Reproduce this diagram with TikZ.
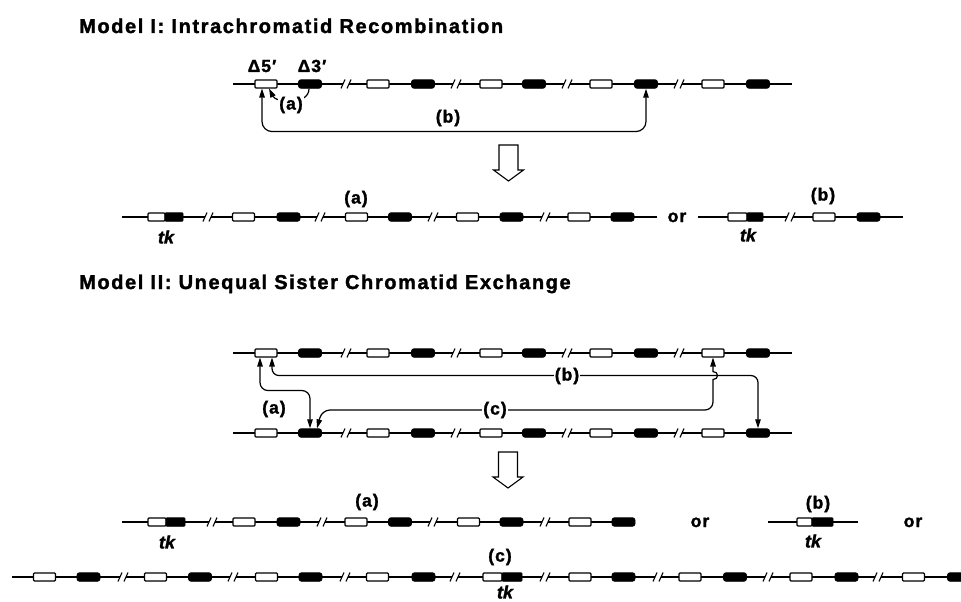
\documentclass[tikz,border=0pt]{standalone}
\usepackage{fontspec}
\setmainfont{Liberation Sans}
\newfontfamily\labface[LetterSpace=6, FakeBold=1.6]{Liberation Sans Bold}
\newfontfamily\headface[LetterSpace=8, FakeBold=1.6]{Liberation Sans Bold}
\newfontfamily\tkface[FakeBold=1.6]{Liberation Sans Bold Italic}
\usetikzlibrary{arrows.meta}

% break in a chromatid: gap in the line with two slanted strokes
\newcommand\chrbreak[2]{%
  \fill[white] (#1-3,#2-2.5) rectangle (#1+3,#2+2.5);
  \draw[slash] (#1-5,#2+4.5) -- (#1-1,#2-4.5);
  \draw[slash] (#1+1,#2+4.5) -- (#1+5,#2-4.5);}

\begin{document}
\begin{tikzpicture}[x=1pt,y=-1pt,
  chrom/.style={line width=1.3pt},
  slash/.style={line width=1.1pt},
  obox/.style={draw, fill=white, line width=1.1pt, minimum width=22pt,
    minimum height=8pt, inner sep=0pt, rounded corners=1pt},
  fbox/.style={draw, fill=black, line width=0.8pt, minimum width=23pt,
    minimum height=8.5pt, inner sep=0pt, rounded corners=2.5pt},
  tko/.style={obox, minimum width=#1},
  tkf/.style={fbox, minimum width=#1, rounded corners=1pt},
  conn/.style={line width=1.2pt},
  >={Triangle[length=9pt,width=5.5pt]},
  title/.style={font=\headface\fontsize{20}{24}\selectfont,
    anchor=base west, inner sep=0pt},
  lab/.style={font=\labface\fontsize{17.5}{20}\selectfont, inner sep=1pt},
  cut/.style={lab, fill=white},
  tklab/.style={font=\tkface\fontsize{18}{20}\selectfont, inner sep=0pt},
  hollow/.pic={\draw[line width=1.1pt, fill=white]
    (-9.5,0) -- (9.5,0) -- (9.5,25) -- (15,25) -- (0,36) -- (-15,25) -- (-9.5,25) -- cycle;}]

\useasboundingbox (0,0) rectangle (961,602);

% ---------------- Model I ----------------
\node[title] (t1) at (79,33) {Model I: Intrachromatid Recombination};

\draw[chrom] (233,84) -- (792,84);
\foreach \b in {346,456,567,679} {\chrbreak{\b}{84}}
\foreach \x [count=\i] in {266,378,491,601,713} \node[obox] (m1o\i) at (\x,84) {};
\foreach \x [count=\i] in {310,423,534,646,758} \node[fbox] (m1f\i) at (\x,84) {};
\node[lab, anchor=base] (d5) at (262,72) {Δ5′};
\node[lab, anchor=base] (d3) at (312,72) {Δ3′};

% (a): intrachromatid event between neighbouring copies
\draw[conn,->] ([xshift=-1pt]m1f1.south) .. controls +(0,17) and +(7,14) .. ([xshift=3pt]m1o1.south);
\node[cut] (m1a) at (291,105) {(a)};
% (b): event between distant copies
\draw[conn,<->,rounded corners=10pt] ([xshift=-4pt]m1o1.south) -- ++(0,43) -| (m1f4.south);
\node[lab] (m1b) at (448,118) {(b)};

\pic at (508.5,145) {hollow};

% products of Model I
\draw[chrom] (122,217) -- (657,217);
\foreach \b in {208,320,433,545} {\chrbreak{\b}{217}}
\node[tko=17pt] (p1to) at (156.5,217) {};
\node[tkf=18pt] (p1tf) at (174,217) {};
\foreach \x [count=\i] in {243.5,356.5,467.5,579} \node[obox] (p1o\i) at (\x,217) {};
\foreach \x [count=\i] in {288.5,400,511.5,622.5} \node[fbox] (p1f\i) at (\x,217) {};
\node[lab] (p1a) at (356,199) {(a)};
\node[tklab] (p1tk) at (166,237) {tk};
\node[lab, anchor=base] (or1) at (677,222) {or};

\draw[chrom] (698,217) -- (903,217);
\chrbreak{790}{217}
\node[tko=19pt] (q1to) at (737.5,217) {};
\node[tkf=16pt] (q1tf) at (755,217) {};
\node[obox] (q1o1) at (824,217) {};
\node[fbox] (q1f1) at (868.5,217) {};
\node[lab] (q1b) at (823,196) {(b)};
\node[tklab] (q1tk) at (748,235) {tk};

% ---------------- Model II ----------------
\node[title] (t2) at (79,289) {Model II: Unequal Sister Chromatid Exchange};

\foreach \y/\n in {353/m2t, 433/m2b} {
  \draw[chrom] (233,\y) -- (792,\y);
  \foreach \b in {346,456,567,679} {\chrbreak{\b}{\y}}
  \foreach \x [count=\i] in {266,378,491,601,713} \node[obox] (\n o\i) at (\x,\y) {};
  \foreach \x [count=\i] in {310,423,534,646,758} \node[fbox] (\n f\i) at (\x,\y) {};
}

% (a)
\draw[conn,<->,rounded corners=8pt] ([xshift=-6pt]m2to1.south) -- ++(0,33) -| (m2bf1.north);
\node[lab] (m2a) at (274,409) {(a)};
% (b)
\draw[conn,<->,rounded corners=7pt] ([xshift=6pt]m2to1.south) -- ++(0,18) -| (m2bf5.north);
\node[cut] (m2bl) at (567,376) {(b)};
% (c), hopping over (b)
\draw[conn,<->] (m2to5.south) -- ++(0,14) .. controls +(6,0) and +(6,0) .. ++(0,8)
  [rounded corners=8pt] |- (322,410) -- ([xshift=7pt]m2bf1.north);
\node[cut] (m2c) at (495,410) {(c)};

\pic at (508,452) {hollow};

% products of Model II: (a)
\draw[chrom] (122,522) -- (635,522);
\foreach \b in {212,322,433,545} {\chrbreak{\b}{522}}
\node[tko=18pt] (r1to) at (157,522) {};
\node[tkf=19pt] (r1tf) at (175.5,522) {};
\foreach \x [count=\i] in {244,356,468.5,580} \node[obox] (r1o\i) at (\x,522) {};
\foreach \x [count=\i] in {288.5,400,511.5,623.5} \node[fbox] (r1f\i) at (\x,522) {};
\node[lab] (r1a) at (367,502) {(a)};
\node[tklab] (r1tk) at (167,542) {tk};
\node[lab, anchor=base] (or2) at (700,527) {or};

% (b)
\draw[chrom] (768,522) -- (858,522);
\node[tko=15pt] (r2to) at (804.5,522) {};
\node[tkf=21pt] (r2tf) at (822.5,522) {};
\node[lab] (r2b) at (818,504) {(b)};
\node[tklab] (r2tk) at (813,541) {tk};
\node[lab, anchor=base] (or3) at (913,527) {or};

% (c)
\draw[chrom] (12,577) -- (975,577);
\foreach \b in {123,233,345,455,545,658,768,878} {\chrbreak{\b}{577}}
\foreach \x [count=\i] in {44.5,155.5,266.5,377.5,580,690,801,913.5} \node[obox] (r3o\i) at (\x,577) {};
\foreach \x [count=\i] in {88.5,200,310.5,423.5,623.5,735,846.5,959} \node[fbox] (r3f\i) at (\x,577) {};
\node[tko=19pt] (r3to) at (492.5,577) {};
\node[tkf=20pt] (r3tf) at (512,577) {};
\node[lab] (r3c) at (500,557) {(c)};
\node[tklab] (r3tk) at (505,592) {tk};
\end{tikzpicture}
\end{document}
